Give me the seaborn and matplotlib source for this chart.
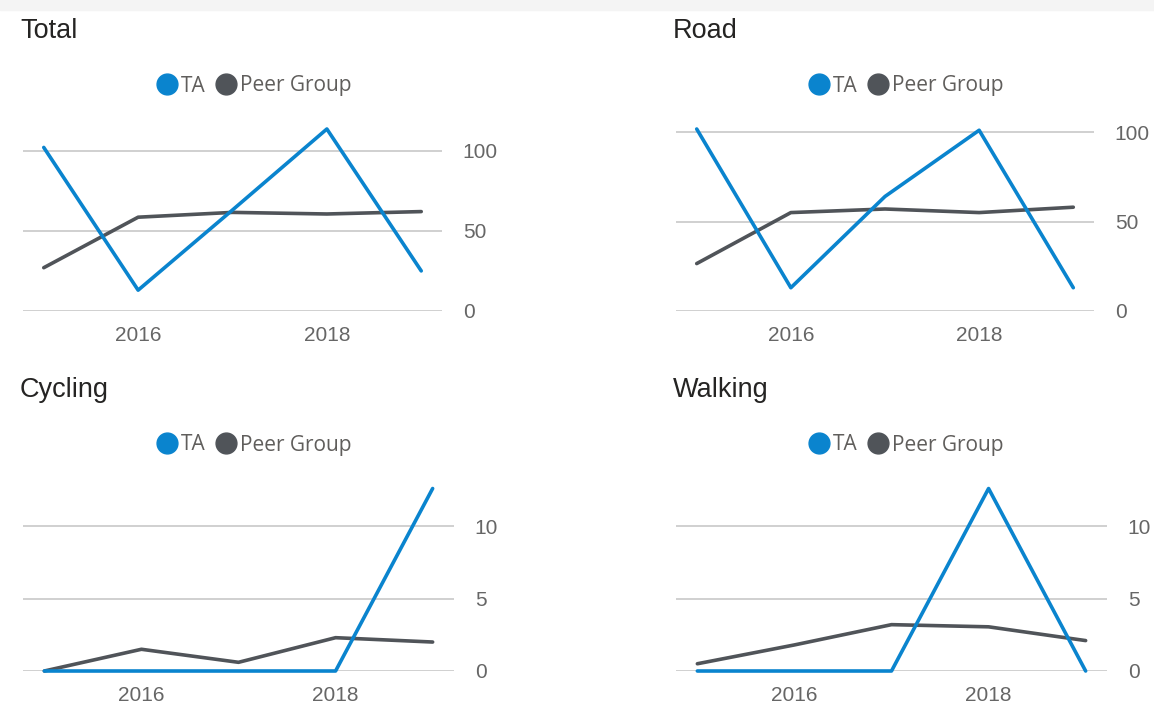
import pandas as pd
import seaborn as sns
import matplotlib.pyplot as plt
from matplotlib.lines import Line2D
from matplotlib.patches import Rectangle

years = [2015, 2016, 2017, 2018, 2019]
panels = ['Total', 'Road', 'Cycling', 'Walking']

total_ta = [102, 13, 63, 113.5, 25]
total_peer = [27, 58.5, 61.5, 60.5, 62]
road_ta = [101.7, 13, 64, 101, 13]
road_peer = [26.5, 55, 57, 55, 58]
cycling_ta = [0, 0, 0, 0, 12.6]
cycling_peer = [0, 1.5, 0.6, 2.3, 2.0]
walking_ta = [0, 0, 0, 12.6, 0]
walking_peer = [0.5, 1.8, 3.2, 3.05, 2.1]

yticks = {'Total': [0, 50, 100], 'Road': [0, 50, 100],
          'Cycling': [0, 5, 10], 'Walking': [0, 5, 10]}
xticks = [2016, 2018]

series = {'Total': (total_ta, total_peer), 'Road': (road_ta, road_peer),
          'Cycling': (cycling_ta, cycling_peer), 'Walking': (walking_ta, walking_peer)}

rows = []
for p in panels:
    ta, peer = series[p]
    for y, a, b in zip(years, ta, peer):
        rows.append({'panel': p, 'year': y, 'group': 'TA', 'value': a})
        rows.append({'panel': p, 'year': y, 'group': 'Peer Group', 'value': b})
df = pd.DataFrame(rows)

sns.set_theme(style='white')
plt.rcParams['font.family'] = ['Liberation Sans', 'DejaVu Sans']

colors = {'TA': '#0A84CE', 'Peer Group': '#505459'}

W, H = 1154, 704
fig = plt.figure(figsize=(W / 100, H / 100), dpi=100)
fig.patches.append(Rectangle((0, 1 - 10 / H), 1, 10 / H, transform=fig.transFigure,
                             color='#F4F4F4', zorder=0))

# pixel boxes: left, right, top, bottom
boxes = {'Total': (23, 442, 129, 311), 'Road': (676, 1094, 129, 311),
         'Cycling': (23, 454, 488.5, 671), 'Walking': (676, 1107, 488.5, 671)}
title_pos = {'Total': (20, 37.5), 'Road': (673, 37.5),
             'Cycling': (20, 397), 'Walking': (673, 397)}
legend_pos = {'Total': (255, 86), 'Road': (907, 86),
              'Cycling': (255, 445), 'Walking': (907, 445)}

for p in panels:
    l, r, t, b = boxes[p]
    ax = fig.add_axes([l / W, 1 - b / H, (r - l) / W, (b - t) / H])
    sub = df[df.panel == p]
    sns.lineplot(data=sub, x='year', y='value', hue='group', hue_order=['Peer Group', 'TA'],
                 palette=colors, linewidth=2.6, legend=False, ax=ax)
    for line in ax.lines:
        line.set_clip_on(False)
        line.set_solid_capstyle('round')
    ax.set_xlim(2015 - 0.22, 2019 + 0.22)
    ax.set_ylim(0, sub.value.max())
    ax.set_xticks(xticks)
    ax.set_yticks(yticks[p])
    ax.yaxis.tick_right()
    ax.tick_params(axis='y', length=0, pad=15, labelsize=15, labelcolor='#666666')
    ax.tick_params(axis='x', length=0, pad=11, labelsize=15, labelcolor='#666666')
    ax.set_xlabel('')
    ax.set_ylabel('')
    ax.grid(axis='y', color='#C8C8C8', linewidth=1.2)
    ax.set_axisbelow(True)
    for s in ax.spines.values():
        s.set_visible(False)
    ax.patch.set_alpha(0)

    tx, ty = title_pos[p]
    fig.text(tx / W, 1 - ty / H, p, fontsize=19.5, color='#252423', va='baseline', ha='left')

    handles = [Line2D([], [], marker='o', linestyle='', markersize=15,
                      markerfacecolor=colors[g], markeredgecolor=colors[g], label=g)
               for g in ['TA', 'Peer Group']]
    lx, ly = legend_pos[p]
    leg = fig.legend(handles=handles, loc='center', bbox_to_anchor=(lx / W, 1 - ly / H),
                     ncol=2, frameon=False, handlelength=0.8, handletextpad=0.25,
                     columnspacing=0.6, borderpad=0,
                     prop={'family': ['Open Sans', 'DejaVu Sans'], 'size': 15})
    for txt in leg.get_texts():
        txt.set_color('#605E5C')

fig.savefig('out.png', dpi=100)
